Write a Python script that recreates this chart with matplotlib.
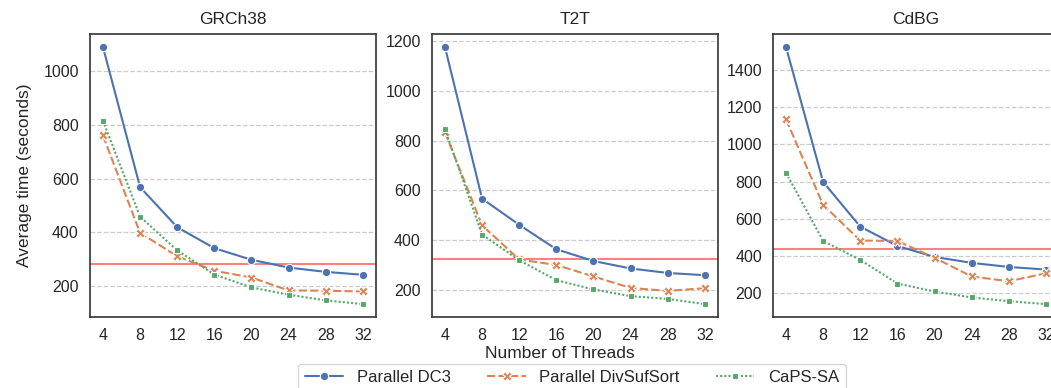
import numpy as np
import matplotlib.pyplot as plt
import seaborn as sns

sns.set_theme(style="white")
plt.rcParams['font.family'] = ['Liberation Sans', 'DejaVu Sans']

threads = [4, 8, 12, 16, 20, 24, 28, 32]
datasets = ['GRCh38', 'T2T', 'CdBG']
methods = ['Parallel DC3', 'Parallel DivSufSort', 'CaPS-SA']

# average time (seconds), one list per method per dataset
grch38_dc3 = [1089, 568, 419, 341, 298, 269, 253, 242]
grch38_divsuf = [760, 398, 311, 257, 232, 184, 183, 180]
grch38_caps = [815, 458, 333, 243, 195, 168, 147, 133]

t2t_dc3 = [1175, 567, 462, 364, 317, 287, 269, 260]
t2t_divsuf = [833, 460, 323, 301, 255, 209, 197, 208]
t2t_caps = [846, 423, 320, 240, 203, 176, 165, 144]

cdbg_dc3 = [1524, 798, 558, 454, 395, 363, 341, 327]
cdbg_divsuf = [1135, 675, 483, 481, 390, 290, 264, 307]
cdbg_caps = [848, 481, 379, 252, 209, 177, 157, 141]

# red reference line per dataset
ref_lines = [284, 323, 435]

all_data = [
    [grch38_dc3, grch38_divsuf, grch38_caps],
    [t2t_dc3, t2t_divsuf, t2t_caps],
    [cdbg_dc3, cdbg_divsuf, cdbg_caps],
]

colors = ['#4c72b0', '#dd8452', '#55a868']
markers = ['o', 'X', 's']
dashes = [(None, None), (4, 1.5), (1, 1)]
msizes = [6, 6.5, 4.5]

fig = plt.figure(figsize=(10.51, 3.88), dpi=100)
lefts = [0.0856, 0.411, 0.7355]
axes = [fig.add_axes([l, 0.183, 0.272, 0.729]) for l in lefts]

for ax, name, series, ref in zip(axes, datasets, all_data, ref_lines):
    for vals, c, m, d, ms, lab in zip(series, colors, markers, dashes, msizes, methods):
        line, = ax.plot(threads, vals, color=c, marker=m, markersize=ms,
                        markeredgecolor='white', markeredgewidth=0.8,
                        linewidth=1.5, label=lab)
        if d[0] is not None:
            line.set_dashes(d)
    ax.axhline(ref, color='#ff8080', linewidth=1.5, zorder=1)
    ax.set_title(name, fontsize=12.5, pad=7)
    ax.set_xticks(threads)
    ax.grid(axis='y', linestyle='--', color='#cccccc', linewidth=0.9)
    ax.tick_params(labelsize=11.5, length=0, pad=8)
    for s in ax.spines.values():
        s.set_color('#333333')
        s.set_linewidth(1.2)

axes[0].set_ylabel('Average time (seconds)', fontsize=12.5, labelpad=8)
fig.text(0.533, 0.09, 'Number of Threads', ha='center', va='center', fontsize=12.5)

handles, labels = axes[0].get_legend_handles_labels()
fig.legend(handles, labels, loc='upper left', bbox_to_anchor=(0.284, 0.063),
           ncol=3, fontsize=12, frameon=True, columnspacing=2.2,
           handlelength=2.3, borderaxespad=0)

fig.savefig('out.png', dpi=100)
